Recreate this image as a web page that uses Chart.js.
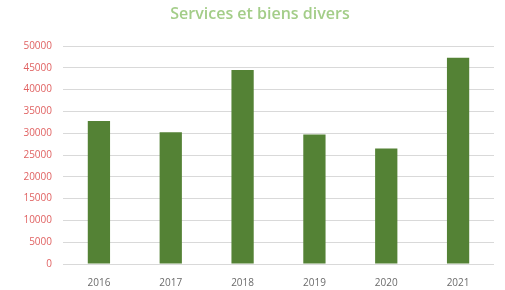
<!DOCTYPE html>
<html>
<head>
<meta charset="utf-8">
<script src="https://cdn.jsdelivr.net/npm/chart.js@4/dist/chart.umd.min.js"></script>
<style>
html,body{margin:0;padding:0;background:#fff;}
#wrap{width:505px;height:290px;position:relative;}
</style>
</head>
<body>
<div id="wrap"><canvas id="c" width="505" height="290"></canvas></div>
<script>
const titleText = "Services et biens divers";
const categories = ["2016", "2017", "2018", "2019", "2020", "2021"];
const values = [32800, 30200, 44500, 29700, 26500, 47300];
const yTicks = [0, 5000, 10000, 15000, 20000, 25000, 30000, 35000, 40000, 45000, 50000];

const offsetTitle = {
  id: 'offsetTitle',
  afterDraw(chart) {
    const ctx = chart.ctx;
    ctx.save();
    ctx.font = "600 16px 'Open Sans', sans-serif";
    ctx.fillStyle = '#a3cd88';
    ctx.textAlign = 'center';
    ctx.textBaseline = 'middle';
    ctx.fillText(titleText, 260, 14);
    ctx.restore();
  }
};

new Chart(document.getElementById('c'), {
  type: 'bar',
  data: {
    labels: categories,
    datasets: [{
      data: values,
      backgroundColor: '#548235',
      borderWidth: 0,
      barPercentage: 0.31,
      categoryPercentage: 1.0
    }]
  },
  plugins: [offsetTitle],
  options: {
    responsive: false,
    animation: false,
    layout: { padding: { left: 0, right: 11, top: 46, bottom: 0 } },
    plugins: {
      legend: { display: false },
      tooltip: { enabled: false },
      title: { display: false }
    },
    scales: {
      x: {
        grid: { display: false, drawTicks: false },
        border: { display: false },
        ticks: { color: '#6b6b6b', font: { family: "'Open Sans', sans-serif", size: 10 }, padding: 13 },
        afterFit: (s) => { s.height = 26; }
      },
      y: {
        min: 0, max: 50000,
        afterBuildTicks: (s) => { s.ticks = yTicks.map(v => ({ value: v })); },
        grid: { color: '#d9d9d9', drawTicks: false, lineWidth: 1 },
        border: { display: false },
        ticks: { color: '#e06262', font: { family: "'Open Sans', sans-serif", size: 10 }, padding: 11,
                 callback: (v) => String(v) },
        afterFit: (s) => { s.width = 63; }
      }
    }
  }
});
</script>
</body>
</html>
